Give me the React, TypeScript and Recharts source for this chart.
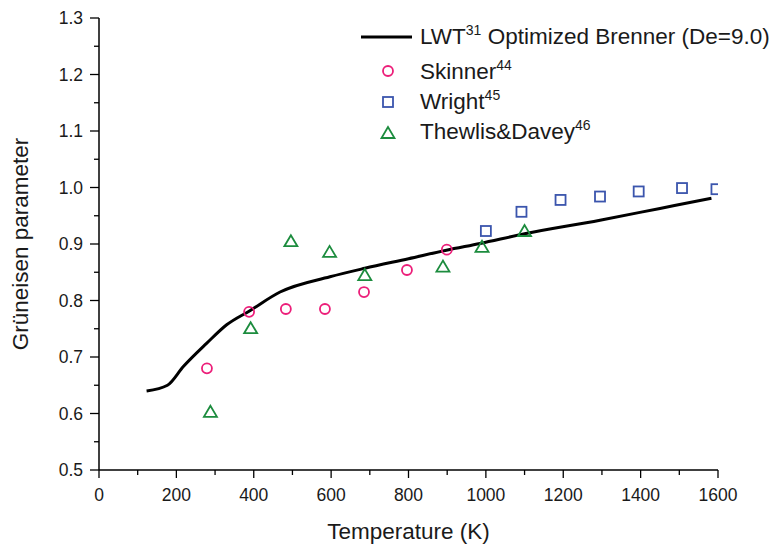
import React from "react";
import {
  ComposedChart,
  Line,
  Scatter,
  XAxis,
  YAxis,
  Legend,
} from "recharts";

// LWT optimized Brenner curve
const LINE_T = [123, 177, 218, 278, 330, 390, 468, 597, 687, 800, 898, 985, 1100, 1295, 1450, 1583];
const LINE_G = [0.64, 0.65, 0.683, 0.724, 0.757, 0.782, 0.815, 0.842, 0.857, 0.874, 0.889, 0.901, 0.918, 0.942, 0.963, 0.981];

// Skinner
const SKINNER_T = [279, 388, 483, 584, 685, 796, 899];
const SKINNER_G = [0.68, 0.78, 0.785, 0.785, 0.815, 0.854, 0.89];

// Wright
const WRIGHT_T = [1000, 1092, 1193, 1295, 1395, 1507, 1596];
const WRIGHT_G = [0.923, 0.957, 0.978, 0.984, 0.993, 0.999, 0.997];

// Thewlis & Davey
const THEWLIS_T = [288, 392, 496, 596, 687, 889, 990, 1100];
const THEWLIS_G = [0.603, 0.751, 0.905, 0.886, 0.845, 0.86, 0.895, 0.923];

const X_TICKS = [0, 100, 200, 300, 400, 500, 600, 700, 800, 900, 1000, 1100, 1200, 1300, 1400, 1500, 1600];
const Y_TICKS = [0.5, 0.55, 0.6, 0.65, 0.7, 0.75, 0.8, 0.85, 0.9, 0.95, 1.0, 1.05, 1.1, 1.15, 1.2, 1.25, 1.3];

const PINK = "#ec1e79";
const BLUE = "#3b55ad";
const GREEN = "#1c8c3e";
const TEXT = "#1a1a1a";
const FONT = "'Liberation Sans', Arial, sans-serif";

const zip = (ts: number[], gs: number[]) => ts.map((t, i) => ({ t, g: gs[i] }));

const lineData = zip(LINE_T, LINE_G);
const skinnerData = zip(SKINNER_T, SKINNER_G);
const wrightData = zip(WRIGHT_T, WRIGHT_G);
const thewlisData = zip(THEWLIS_T, THEWLIS_G);

const CircleMark = (p: any) => (
  <circle cx={p.cx} cy={p.cy} r={5} fill="none" stroke={PINK} strokeWidth={1.8} />
);
const SquareMark = (p: any) => (
  <rect x={p.cx - 5} y={p.cy - 5} width={10} height={10} fill="none" stroke={BLUE} strokeWidth={1.8} />
);
const TriangleMark = (p: any) => (
  <polygon
    points={`${p.cx},${p.cy - 6} ${p.cx - 6.5},${p.cy + 5} ${p.cx + 6.5},${p.cy + 5}`}
    fill="none"
    stroke={GREEN}
    strokeWidth={1.8}
  />
);

function XTick({ x, y, payload }: any) {
  const major = payload.value % 200 === 0;
  return (
    <g>
      <line x1={x} y1={y} x2={x} y2={y + (major ? 8 : 5)} stroke="#000" strokeWidth={1.3} />
      {major && (
        <text x={x} y={y + 31} textAnchor="middle" fontSize={17.5} fontFamily={FONT} fill={TEXT}>
          {payload.value}
        </text>
      )}
    </g>
  );
}

function YTick({ x, y, payload }: any) {
  const major = Math.round(payload.value * 100) % 10 === 0;
  return (
    <g>
      <line x1={x} y1={y} x2={x - (major ? 9 : 5)} y2={y} stroke="#000" strokeWidth={1.3} />
      {major && (
        <text x={x - 16} y={y} dy="0.35em" textAnchor="end" fontSize={17.5} fontFamily={FONT} fill={TEXT}>
          {payload.value.toFixed(1)}
        </text>
      )}
    </g>
  );
}

function YLabel({ viewBox }: any) {
  const cy = viewBox.y + viewBox.height / 2;
  return (
    <text
      x={20}
      y={cy}
      transform={`rotate(-90, 20, ${cy})`}
      textAnchor="middle"
      dominantBaseline="central"
      fontSize={22.5}
      fontFamily={FONT}
      fill={TEXT}
    >
      Grüneisen parameter
    </text>
  );
}

const legendRows = [
  { key: "lwt", name: "LWT", sup: "31", rest: " Optimized Brenner (De=9.0)" },
  { key: "sk", name: "Skinner", sup: "44", rest: "" },
  { key: "wr", name: "Wright", sup: "45", rest: "" },
  { key: "th", name: "Thewlis&Davey", sup: "46", rest: "" },
];

function legendIcon(key: string) {
  if (key === "lwt") return <line x1={0} y1={16} x2={51} y2={16} stroke="#000" strokeWidth={3} />;
  if (key === "sk") return <CircleMark cx={27} cy={15} />;
  if (key === "wr") return <SquareMark cx={27} cy={16} />;
  return <TriangleMark cx={27} cy={17} />;
}

function renderLegend() {
  return (
    <div style={{ fontFamily: FONT, fontSize: 22.5, color: TEXT }}>
      {legendRows.map((r, i) => (
        <div
          key={r.key}
          style={{ display: "flex", alignItems: "center", height: 30, marginBottom: i === 0 ? 5 : 0 }}
        >
          <svg width={51} height={30} style={{ marginRight: 8 }}>
            {legendIcon(r.key)}
          </svg>
          <span style={{ whiteSpace: "nowrap" }}>
            {r.name}
            <sup style={{ fontSize: 14 }}>{r.sup}</sup>
            {r.rest}
          </span>
        </div>
      ))}
    </div>
  );
}

export default function App() {
  return (
    <div style={{ position: "absolute", left: 0, top: 0, width: 776, height: 545, background: "#fff" }}>
      <ComposedChart
        width={776}
        height={545}
        margin={{ top: 18, right: 58, left: 0, bottom: 0 }}
      >
        <XAxis
          type="number"
          dataKey="t"
          domain={[0, 1600]}
          ticks={X_TICKS}
          tick={XTick}
          tickLine={false}
          tickSize={0}
          tickMargin={0}
          interval={0}
          height={75}
          axisLine={{ stroke: "#000", strokeWidth: 1.5 }}
          allowDataOverflow
          label={{
            value: "Temperature (K)",
            position: "insideBottom",
            offset: 6,
            fontSize: 22.5,
            fontFamily: FONT,
            fill: TEXT,
          }}
        />
        <YAxis
          type="number"
          dataKey="g"
          domain={[0.5, 1.3]}
          ticks={Y_TICKS}
          tick={YTick}
          tickLine={false}
          tickSize={0}
          tickMargin={0}
          interval={0}
          width={99}
          axisLine={{ stroke: "#000", strokeWidth: 1.5 }}
          allowDataOverflow
          label={<YLabel />}
        />
        <Legend
          layout="horizontal"
          verticalAlign="middle"
          align="center"
          content={renderLegend}
          wrapperStyle={{ top: 21, left: 361, width: 415 }}
        />
        <Line
          data={lineData}
          dataKey="g"
          type="monotone"
          stroke="#000"
          strokeWidth={3}
          dot={false}
          activeDot={false}
          isAnimationActive={false}
        />
        <Scatter data={skinnerData} shape={CircleMark} isAnimationActive={false} />
        <Scatter data={wrightData} shape={SquareMark} isAnimationActive={false} />
        <Scatter data={thewlisData} shape={TriangleMark} isAnimationActive={false} />
      </ComposedChart>
    </div>
  );
}
